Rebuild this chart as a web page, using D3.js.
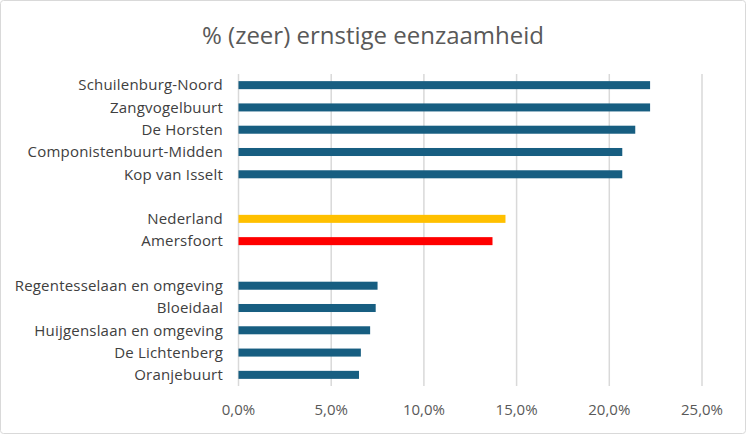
<!DOCTYPE html>
<html><head><meta charset="utf-8">
<script src="https://cdn.jsdelivr.net/npm/d3@7"></script>
<style>
html,body{margin:0;padding:0;background:#fff;}
svg{display:block;font-family:"Open Sans","Noto Sans",sans-serif;}
</style></head>
<body>
<svg id="chart" width="746" height="434"></svg>
<script>
const title = "% (zeer) ernstige eenzaamheid";
const categories = ["Schuilenburg-Noord","Zangvogelbuurt","De Horsten","Componistenbuurt-Midden","Kop van Isselt","",
  "Nederland","Amersfoort"," ",
  "Regentesselaan en omgeving","Bloeidaal","Huijgenslaan en omgeving","De Lichtenberg","Oranjebuurt"];
const values = [22.2,22.2,21.4,20.7,20.7,null,14.4,13.7,null,7.5,7.4,7.1,6.6,6.5];
const barColors = ["#175E81","#175E81","#175E81","#175E81","#175E81",null,"#FFC000","#FF0000",null,"#175E81","#175E81","#175E81","#175E81","#175E81"];
const tickValues = [0,5,10,15,20,25];

const svg = d3.select("#chart");
svg.append("rect").attr("x",0.5).attr("y",0.5).attr("width",745).attr("height",433)
  .attr("rx",3).attr("fill","#fff").attr("stroke","#D9D9D9");

svg.append("text").attr("x",373).attr("y",44).attr("text-anchor","middle")
  .attr("font-size",24).attr("fill","#595959").text(title);

const x = d3.scaleLinear().domain([0,25]).range([238.5,702]);
const y = d3.scaleBand().domain(categories.map((c,i)=>i)).range([74,386]).paddingInner(0.64).paddingOuter(0.32);

// gridlines
svg.append("g").selectAll("line").data(tickValues).join("line")
  .attr("x1",d=>x(d)).attr("x2",d=>x(d)).attr("y1",74).attr("y2",386)
  .attr("stroke","#D9D9D9").attr("stroke-width",1.5);

// bars
const data = categories.map((c,i)=>({c,i,v:values[i],col:barColors[i]})).filter(d=>d.v!==null);
svg.append("g").selectAll("rect").data(data).join("rect")
  .attr("x",x(0)).attr("y",d=>y(d.i)).attr("height",y.bandwidth())
  .attr("width",d=>x(d.v)-x(0)).attr("fill",d=>d.col);

// category labels
svg.append("g").selectAll("text").data(categories.map((c,i)=>({c,i}))).join("text")
  .attr("x",223).attr("y",d=>y(d.i)+y.bandwidth()/2).attr("dy","0.35em")
  .attr("text-anchor","end").attr("font-size",15).attr("letter-spacing",0.2).attr("fill","#404040").text(d=>d.c.trim());

// x axis labels
const fmt = v => v.toFixed(1).replace(".",",")+"%";
svg.append("g").selectAll("text").data(tickValues).join("text")
  .attr("x",d=>x(d)).attr("y",415).attr("text-anchor","middle")
  .attr("font-size",15).attr("fill","#595959").text(fmt);
</script>
</body></html>
